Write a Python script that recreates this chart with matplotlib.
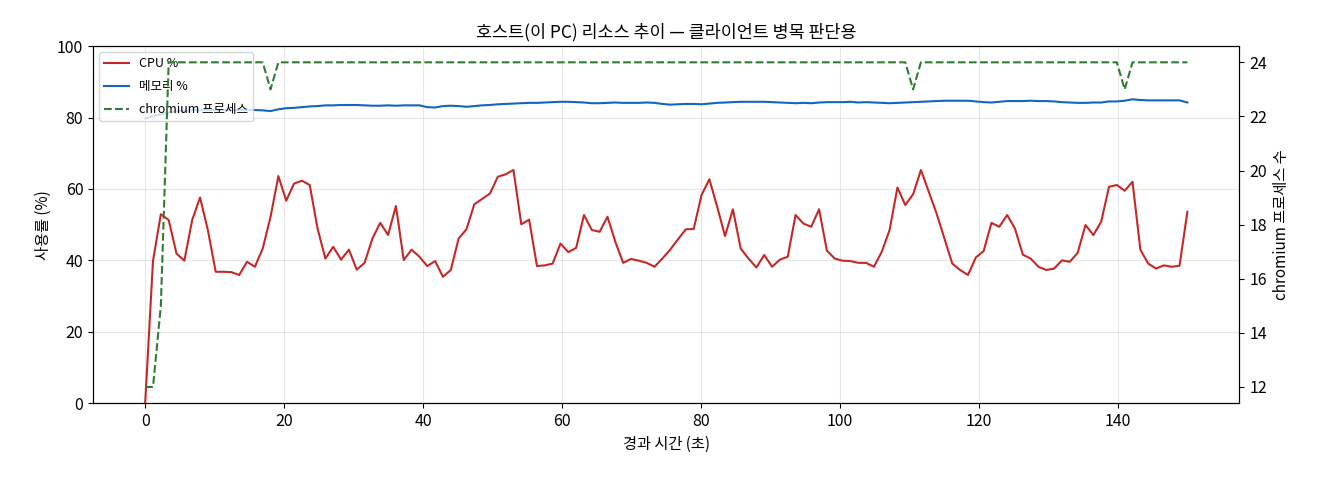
import numpy as np
import matplotlib
matplotlib.use("Agg")
import matplotlib.pyplot as plt

plt.rcParams['font.family'] = ['Noto Sans CJK KR', 'DejaVu Sans']
plt.rcParams['axes.unicode_minus'] = False

# 샘플별 측정값 (약 1.13초 간격, 0~150초)
cpu_pct = [
    0.0, 39.9, 52.9, 51.3, 41.9, 39.9, 51.3, 57.6, 48.5, 36.8,
    36.8, 36.7, 35.9, 39.6, 38.2, 43.3, 52.2, 63.6, 56.7, 61.5,
    62.3, 61.1, 48.9, 40.5, 43.8, 40.2, 43.0, 37.4, 39.3, 46.1,
    50.5, 47.1, 55.2, 40.1, 43.0, 41.0, 38.4, 39.8, 35.4, 37.3,
    46.1, 48.7, 55.7, 57.2, 58.7, 63.4, 64.1, 65.3, 50.1, 51.4,
    38.4, 38.6, 39.1, 44.7, 42.3, 43.5, 52.7, 48.5, 48.0, 52.2,
    45.2, 39.3, 40.4, 39.9, 39.3, 38.2, 40.5, 43.0, 45.9, 48.7,
    48.8, 58.3, 62.7, 55.0, 46.8, 54.3, 43.3, 40.5, 38.0, 41.5,
    38.2, 40.2, 41.0, 52.7, 50.3, 49.4, 54.3, 42.7, 40.5, 39.9,
    39.8, 39.3, 39.3, 38.2, 42.4, 48.5, 60.4, 55.5, 58.5, 65.3,
    59.2, 53.1, 46.1, 39.1, 37.3, 35.9, 40.8, 42.6, 50.5, 49.4,
    52.7, 48.9, 41.6, 40.5, 38.2, 37.3, 37.7, 40.0, 39.6, 42.1,
    49.9, 47.1, 50.8, 60.6, 61.1, 59.5, 62.0, 43.0, 39.1, 37.7,
    38.6, 38.2, 38.5, 53.6,
]
mem_pct = [
    79.7, 80.4, 80.9, 81.4, 81.7, 81.9, 82.0, 82.1, 82.1, 82.1,
    82.1, 82.1, 82.1, 82.1, 82.1, 82.0, 81.8, 82.3, 82.6, 82.7,
    82.9, 83.1, 83.2, 83.4, 83.4, 83.5, 83.5, 83.5, 83.4, 83.3,
    83.3, 83.4, 83.3, 83.4, 83.4, 83.4, 82.9, 82.8, 83.2, 83.3,
    83.2, 83.0, 83.2, 83.4, 83.5, 83.7, 83.8, 83.9, 84.0, 84.1,
    84.1, 84.2, 84.3, 84.4, 84.4, 84.3, 84.2, 84.0, 84.0, 84.1,
    84.2, 84.1, 84.1, 84.1, 84.2, 84.1, 83.8, 83.6, 83.7, 83.8,
    83.8, 83.7, 83.9, 84.1, 84.2, 84.3, 84.4, 84.4, 84.4, 84.4,
    84.3, 84.2, 84.1, 84.0, 84.1, 84.0, 84.2, 84.3, 84.3, 84.3,
    84.4, 84.2, 84.3, 84.2, 84.1, 84.0, 84.1, 84.2, 84.3, 84.4,
    84.5, 84.6, 84.7, 84.7, 84.7, 84.7, 84.5, 84.3, 84.2, 84.4,
    84.6, 84.6, 84.6, 84.7, 84.6, 84.6, 84.5, 84.3, 84.2, 84.1,
    84.1, 84.2, 84.2, 84.5, 84.5, 84.7, 85.1, 84.9, 84.8, 84.8,
    84.8, 84.8, 84.8, 84.2,
]
chromium_procs = [12, 12, 15] + [24] * 13 + [23] + [24] * 81 + [23] + [24] * 26 + [23] + [24] * 8

n = len(cpu_pct)
elapsed = np.arange(n) * (150.0 / (n - 1))

fig, ax1 = plt.subplots(figsize=(13.2, 4.8), dpi=100)
fig.subplots_adjust(left=0.0705, right=0.939, top=0.904, bottom=0.16)

l1, = ax1.plot(elapsed, cpu_pct, color='#c62828', lw=1.5, label='CPU %')
l2, = ax1.plot(elapsed, mem_pct, color='#1565c0', lw=1.5, label='메모리 %')
ax1.set_ylim(0, 100)
ax1.set_xlabel('경과 시간 (초)', fontsize=11)
ax1.set_ylabel('사용률 (%)', fontsize=11)
ax1.grid(True, alpha=0.3)
ax1.tick_params(labelsize=11.5)

ax2 = ax1.twinx()
l3, = ax2.plot(elapsed, chromium_procs, color='#2e7d32', lw=1.5, ls='--', label='chromium 프로세스')
ax2.set_ylabel('chromium 프로세스 수', fontsize=11)
ax2.tick_params(labelsize=11.5)

ax1.legend(handles=[l1, l2, l3], loc='upper left', fontsize=9, labelspacing=0.8)
ax1.set_title('호스트(이 PC) 리소스 추이 — 클라이언트 병목 판단용', fontsize=12.5)

fig.savefig('out.png', dpi=100)
